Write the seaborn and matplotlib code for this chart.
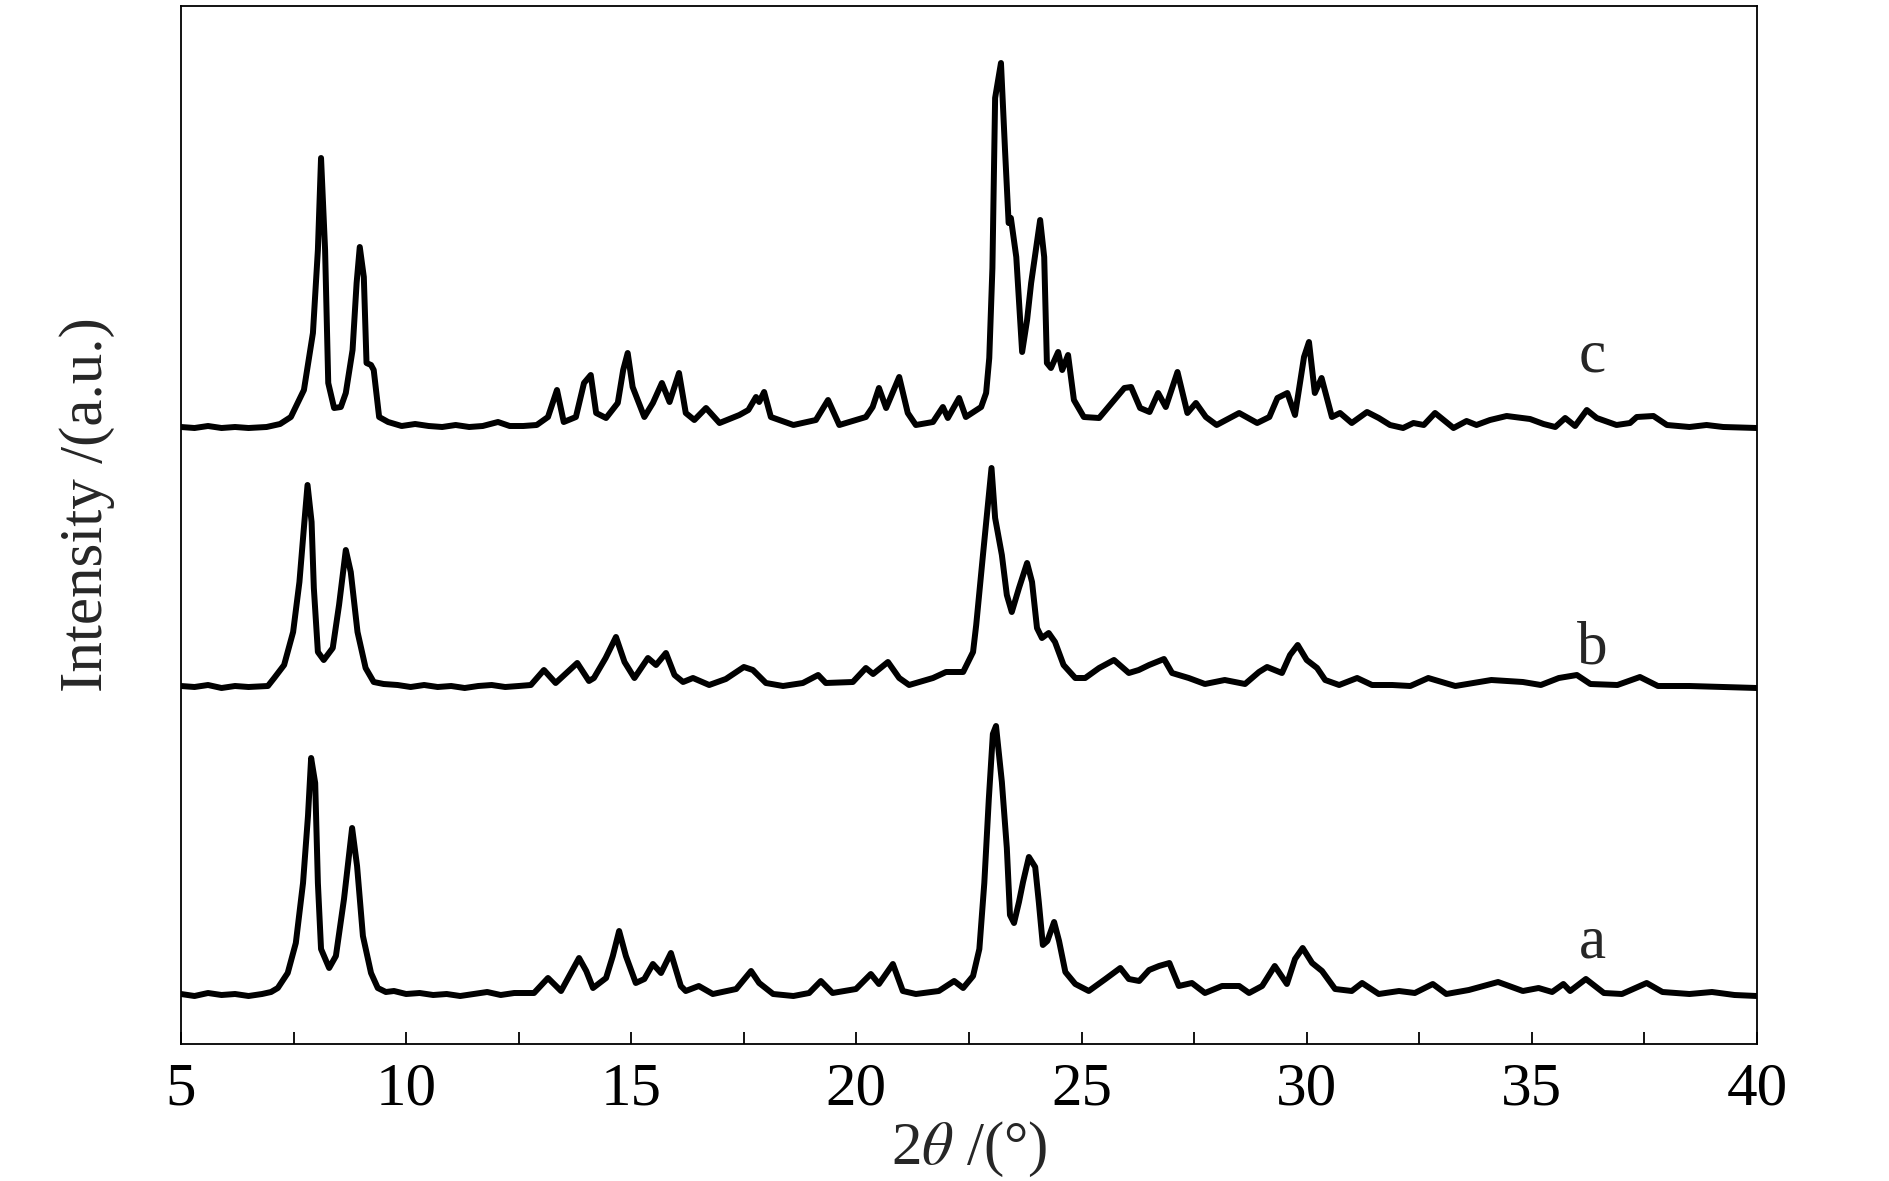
import numpy as np
import matplotlib
matplotlib.use("Agg")
import matplotlib.pyplot as plt
from matplotlib.ticker import MultipleLocator
import seaborn as sns

# --- XRD patterns (height above each curve's own baseline) ---
two_theta_a = [5.0, 5.3, 5.6, 5.9, 6.2, 6.5, 6.8, 7.0, 7.15, 7.37,
               7.55, 7.71, 7.82, 7.89, 7.98, 8.04, 8.11, 8.29, 8.44, 8.62,
               8.8, 8.91, 9.04, 9.22, 9.37, 9.55, 9.73, 10.0, 10.3, 10.6,
               10.9, 11.2, 11.5, 11.8, 12.1, 12.4, 12.84, 13.15, 13.44, 13.84,
               14.0, 14.15, 14.44, 14.59, 14.73, 14.88, 15.1, 15.29, 15.48, 15.66,
               15.88, 16.1, 16.21, 16.5, 16.81, 17.33, 17.66, 17.84, 18.15, 18.6,
               18.95, 19.21, 19.47, 19.99, 20.32, 20.5, 20.81, 21.03, 21.32, 21.83,
               22.17, 22.37, 22.59, 22.73, 22.84, 22.94, 23.03, 23.1, 23.23, 23.34,
               23.41, 23.5, 23.61, 23.7, 23.83, 23.97, 24.05, 24.14, 24.24, 24.39,
               24.5, 24.64, 24.86, 25.16, 25.53, 25.86, 26.05, 26.28, 26.5, 26.72,
               26.95, 27.16, 27.45, 27.74, 28.12, 28.5, 28.72, 29.01, 29.29, 29.56,
               29.74, 29.91, 30.12, 30.34, 30.63, 31.0, 31.23, 31.6, 32.05, 32.4,
               32.8, 33.1, 33.6, 34.25, 34.8, 35.15, 35.45, 35.7, 35.85, 36.2,
               36.6, 37.0, 37.3, 37.55, 37.9, 38.5, 39.0, 39.5, 40.0]
intensity_a = [2, 0, 3, 1, 2, 0, 2, 4, 8, 23,
               53, 113, 180, 238, 213, 113, 47, 28, 40, 97,
               168, 130, 60, 23, 8, 4, 5, 2, 3, 1,
               2, 0, 2, 4, 1, 3, 3, 18, 5, 38,
               25, 8, 18, 40, 65, 40, 13, 17, 32, 23,
               43, 10, 5, 10, 2, 7, 25, 13, 2, 0,
               3, 15, 3, 7, 22, 12, 32, 5, 2, 5,
               15, 8, 20, 47, 113, 197, 262, 270, 214, 148,
               81, 73, 94, 114, 139, 129, 94, 51, 55, 74,
               55, 24, 12, 5, 17, 28, 17, 15, 26, 30,
               33, 10, 13, 3, 10, 10, 3, 10, 30, 12,
               37, 48, 33, 25, 7, 5, 13, 2, 5, 3,
               12, 2, 6, 14, 5, 8, 4, 12, 5, 17,
               3, 2, 8, 13, 4, 2, 4, 1, 0]

two_theta_b = [5.0, 5.3, 5.6, 5.9, 6.2, 6.5, 6.93, 7.07, 7.29, 7.49,
               7.63, 7.74, 7.81, 7.9, 7.95, 8.04, 8.17, 8.37, 8.51, 8.66,
               8.77, 8.92, 9.1, 9.28, 9.5, 9.81, 10.1, 10.4, 10.7, 11.0,
               11.3, 11.6, 11.9, 12.2, 12.5, 12.77, 13.06, 13.32, 13.8, 14.06,
               14.17, 14.43, 14.66, 14.85, 15.07, 15.37, 15.55, 15.77, 15.96, 16.15,
               16.37, 16.73, 17.1, 17.5, 17.7, 17.99, 18.37, 18.81, 19.15, 19.32,
               19.92, 20.21, 20.37, 20.7, 20.95, 21.17, 21.7, 21.99, 22.37, 22.59,
               22.66, 22.81, 23.0, 23.08, 23.23, 23.34, 23.45, 23.61, 23.79, 23.9,
               24.01, 24.12, 24.27, 24.41, 24.6, 24.86, 25.08, 25.39, 25.72, 26.05,
               26.27, 26.5, 26.83, 27.01, 27.38, 27.74, 28.18, 28.63, 28.94, 29.12,
               29.45, 29.63, 29.8, 30.0, 30.23, 30.41, 30.72, 31.12, 31.45, 31.9,
               32.3, 32.7, 33.3, 34.1, 34.8, 35.2, 35.6, 36.0, 36.3, 36.9,
               37.4, 37.8, 38.5, 39.25, 40.0]
intensity_b = [2, 1, 3, 0, 2, 1, 2, 10, 23, 56,
               106, 166, 203, 166, 100, 36, 28, 40, 83, 138,
               116, 56, 20, 6, 4, 3, 1, 3, 1, 2,
               0, 2, 3, 1, 2, 3, 18, 5, 25, 7,
               10, 30, 51, 26, 10, 30, 23, 35, 13, 6,
               10, 3, 9, 21, 18, 5, 2, 5, 13, 5,
               6, 20, 14, 26, 10, 3, 10, 16, 16, 36,
               63, 133, 220, 170, 133, 93, 76, 100, 125, 106,
               60, 50, 55, 46, 23, 10, 10, 20, 28, 15,
               18, 23, 29, 15, 10, 4, 8, 4, 16, 21,
               15, 33, 43, 28, 20, 8, 3, 10, 3, 3,
               2, 10, 2, 8, 6, 3, 10, 13, 4, 3,
               11, 2, 2, 1, 0]

two_theta_c = [5.0, 5.3, 5.6, 5.9, 6.2, 6.5, 6.9, 7.2, 7.44, 7.73,
               7.93, 8.04, 8.11, 8.2, 8.27, 8.4, 8.55, 8.66, 8.81, 8.9,
               8.97, 9.06, 9.12, 9.22, 9.28, 9.4, 9.6, 9.9, 10.2, 10.5,
               10.8, 11.1, 11.4, 11.7, 12.04, 12.3, 12.6, 12.9, 13.15, 13.35,
               13.5, 13.77, 13.95, 14.1, 14.22, 14.44, 14.7, 14.82, 14.92, 15.03,
               15.29, 15.48, 15.68, 15.85, 16.06, 16.21, 16.4, 16.66, 16.96, 17.4,
               17.6, 17.77, 17.84, 17.95, 18.1, 18.6, 19.1, 19.37, 19.62, 20.21,
               20.36, 20.5, 20.66, 20.95, 21.14, 21.32, 21.7, 21.92, 22.03, 22.28,
               22.43, 22.77, 22.88, 22.95, 23.02, 23.08, 23.21, 23.3, 23.38, 23.43,
               23.55, 23.68, 23.79, 23.88, 24.08, 24.17, 24.23, 24.32, 24.48, 24.57,
               24.7, 24.83, 25.05, 25.39, 25.69, 25.95, 26.1, 26.3, 26.51, 26.7,
               26.87, 27.13, 27.35, 27.54, 27.76, 28.0, 28.5, 28.9, 29.17, 29.35,
               29.57, 29.74, 29.94, 30.05, 30.18, 30.33, 30.56, 30.74, 31.0, 31.34,
               31.6, 31.85, 32.14, 32.37, 32.6, 32.85, 33.26, 33.55, 33.77, 34.07,
               34.44, 34.96, 35.26, 35.52, 35.74, 35.96, 36.22, 36.44, 36.88, 37.18,
               37.33, 37.7, 38.0, 38.5, 38.88, 39.25, 40.0]
intensity_c = [1, 0, 2, 0, 1, 0, 1, 4, 11, 38,
               95, 178, 270, 178, 45, 20, 21, 35, 78, 145,
               181, 151, 65, 63, 58, 11, 6, 2, 4, 2,
               1, 3, 1, 2, 6, 2, 2, 3, 11, 38,
               6, 11, 45, 53, 15, 10, 25, 58, 75, 41,
               11, 25, 45, 26, 55, 15, 8, 20, 5, 13,
               18, 31, 26, 36, 11, 3, 8, 28, 3, 11,
               21, 40, 20, 51, 15, 3, 6, 21, 10, 30,
               11, 21, 35, 70, 160, 330, 365, 278, 205, 210,
               171, 76, 108, 145, 208, 171, 65, 60, 76, 58,
               73, 28, 11, 10, 26, 40, 41, 20, 16, 35,
               21, 56, 15, 25, 11, 3, 15, 5, 11, 30,
               35, 13, 71, 86, 35, 50, 11, 15, 5, 16,
               10, 3, 0, 5, 3, 15, 0, 7, 3, 8,
               12, 9, 4, 1, 10, 2, 18, 10, 3, 5,
               11, 12, 3, 1, 3, 1, 0]

curve_names = ["a", "b", "c"]
offsets = [48, 356, 616]          # vertical stacking of the patterns
label_y = [87, 380, 672]          # baseline of the a/b/c letters

sns.set_theme(style="white")
plt.rcParams["font.family"] = ["Liberation Serif", "DejaVu Serif"]
plt.rcParams["mathtext.fontset"] = "stix"

fig = plt.figure(figsize=(18.9, 11.81), dpi=100)
ax = fig.add_axes([181 / 1890, 1 - 1044 / 1181, 1576 / 1890, 1038 / 1181])

curves = [(two_theta_a, intensity_a), (two_theta_b, intensity_b), (two_theta_c, intensity_c)]
for (x, y), off, name, ly in zip(curves, offsets, curve_names, label_y):
    sns.lineplot(x=x, y=np.array(y) + off, color="black", lw=4.3, ax=ax,
                 estimator=None, sort=False, solid_joinstyle="round",
                 solid_capstyle="round")
    ax.text(36.35, ly, name, ha="center", va="baseline", fontsize=44)

ax.set_xlim(5, 40)
ax.set_ylim(0, 1038)
ax.xaxis.set_major_locator(MultipleLocator(5))
ax.xaxis.set_minor_locator(MultipleLocator(2.5))
ax.tick_params(axis="x", which="both", direction="in", length=9, width=1.3,
               bottom=True, top=False, labelsize=44, pad=13, colors="black")
ax.set_yticks([])
for sp in ax.spines.values():
    sp.set_color("black")
    sp.set_linewidth(1.3)

ax.set_xlabel(r"2$\theta$ /(°)", fontsize=44)
ax.xaxis.set_label_coords(0.5, -0.073)
ax.set_ylabel("Intensity /(a.u.)", fontsize=44)
ax.yaxis.set_label_coords(-0.042, 0.52)

fig.savefig("out.png", dpi=100, facecolor="white")
